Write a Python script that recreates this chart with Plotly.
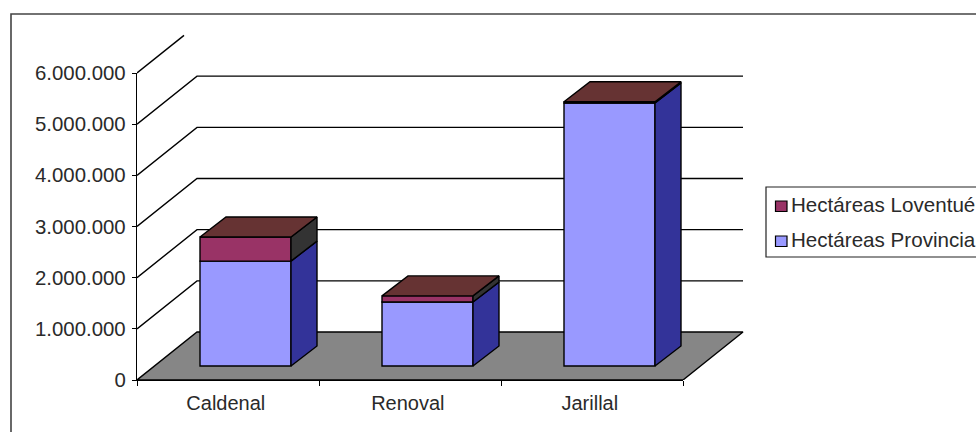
import plotly.graph_objects as go

categories = ["Caldenal", "Renoval", "Jarillal"]
hectareas_provinciales = [2050000, 1250000, 5140000]
hectareas_loventue = [470000, 120000, 25000]
y_ticks = [0, 1000000, 2000000, 3000000, 4000000, 5000000, 6000000]
series_names = ["Hectáreas Loventué", "Hectáreas Provinciales"]

W, H = 976, 432
X0, X1, Y0, Y1 = 137, 683, 380, 73
BG_X1, BG_Y1 = 800, 20                   # extent of the invisible axes that hold floor and walls
PX_X = (X1 - X0) / 3
PX_Y = (Y0 - Y1) / 6000000
DX, DY = 60 / PX_X, 48 / PX_Y            # depth of the floor
LX, LY = 17.5 / PX_X, 14 / PX_Y          # how far the bars sit behind the front edge
BX, BY = 26 / PX_X, 20 / PX_Y            # depth of each bar
BW = 91 / PX_X
FONT = "Liberation Sans, Arial, sans-serif"
TXT = "#2a2a2a"
LW = 1.4

def px(x):
    return x / W

def py(y):
    return 1 - y / H

fig = go.Figure()

# Floor (on the wide invisible axes x/y, which are drawn first)
xl, xr = -0.5, 2.5
fig.add_trace(go.Scatter(
    x=[xl, xl + DX, xr + DX, xr, xl], y=[0, DY, DY, 0, 0], mode="lines", fill="toself",
    fillcolor="#868686", line=dict(color="#000", width=LW), hoverinfo="skip", showlegend=False))

# Back wall gridlines
gx, gy = [], []
for v in y_ticks:
    if v == 0:
        continue
    if v == y_ticks[-1]:
        f = 47 / 60
        gx += [xl, xl + DX * f, None]
        gy += [v, v + DY * f, None]
    else:
        gx += [xl, xl + DX, xr + DX, None]
        gy += [v, v + DY, v + DY, None]
fig.add_trace(go.Scatter(x=gx, y=gy, mode="lines", line=dict(color="#000", width=LW),
                         hoverinfo="skip", showlegend=False))

# Front faces
xs = [i + LX for i in range(len(categories))]
base_low = [LY for _ in categories]
base_high = [LY + p for p in hectareas_provinciales]
fig.add_trace(go.Bar(x=xs, y=hectareas_provinciales, base=base_low, width=BW,
                     marker=dict(color="#9999FF", line=dict(color="#000", width=LW)),
                     name=series_names[1], xaxis="x2", yaxis="y2", cliponaxis=False, showlegend=False))
fig.add_trace(go.Bar(x=xs, y=hectareas_loventue, base=base_high, width=BW,
                     marker=dict(color="#993366", line=dict(color="#000", width=LW)),
                     name=series_names[0], xaxis="x2", yaxis="y2", cliponaxis=False, showlegend=False))

def face(x, y, color):
    fig.add_trace(go.Scatter(x=x, y=y, mode="lines", fill="toself", fillcolor=color,
                             line=dict(color="#000", width=LW), hoverinfo="skip",
                             xaxis="x2", yaxis="y2", cliponaxis=False, showlegend=False))

# Side and top faces
for i, c in enumerate(xs):
    r = c + BW / 2
    l = c - BW / 2
    b = base_low[i]
    m = base_high[i]
    t = m + hectareas_loventue[i]
    face([r, r + BX, r + BX, r, r], [b, b + BY, m + BY, m, b], "#333399")
    face([r, r + BX, r + BX, r, r], [m, m + BY, t + BY, t, m], "#333333")
    face([l, l + BX, r + BX, r, l], [t, t + BY, t + BY, t, t], "#663333")

fig.update_layout(
    width=W, height=H, margin=dict(l=0, r=0, t=0, b=0, autoexpand=False),
    paper_bgcolor="#fff", plot_bgcolor="rgba(0,0,0,0)",
    barmode="overlay", separators=",.", showlegend=False,
    font=dict(family=FONT, size=20, color=TXT),
    xaxis=dict(domain=[px(X0), px(BG_X1)], range=[xl, xl + (BG_X1 - X0) / PX_X], visible=False),
    yaxis=dict(domain=[py(Y0), py(BG_Y1)], range=[0, (Y0 - BG_Y1) / PX_Y], visible=False),
    xaxis2=dict(domain=[px(X0), px(X1)], range=[xl, xr], anchor="y2",
                tickvals=[i - 0.012 for i in range(3)],
                ticktext=categories, ticks="", showgrid=False, zeroline=False,
                showline=True, linecolor="#000", linewidth=LW, ticklabelstandoff=5,
                minor=dict(tick0=-0.5, dtick=1, ticks="outside", ticklen=5, tickwidth=LW, tickcolor="#000")),
    yaxis2=dict(domain=[py(Y0), py(Y1)], range=[0, 6000000], anchor="x2", tickvals=y_ticks, tickformat=",d",
                ticks="outside", ticklen=4, tickwidth=LW, tickcolor="#000", showgrid=False,
                zeroline=False, showline=True, linecolor="#000", linewidth=LW, ticklabelstandoff=2,
                tickfont=dict(size=20.4)),
)

paper = dict(xref="paper", yref="paper")
# Outer frame
fig.add_shape(type="path", path=f"M {px(11)} {py(H + 5)} L {px(11)} {py(14)} L {px(W + 5)} {py(14)}",
              line=dict(color="#444", width=1.6), **paper)
# Legend
fig.add_shape(type="rect", x0=px(766), x1=px(W + 20), y0=py(187), y1=py(257), fillcolor="#fff",
              line=dict(color="#222", width=1.2), layer="above", **paper)
legend_rows = [(series_names[0], "#993366", 206), (series_names[1], "#9999FF", 241)]
for name, color, yc in legend_rows:
    fig.add_shape(type="rect", x0=px(775.5), x1=px(787), y0=py(yc - 5), y1=py(yc + 5.5), fillcolor=color,
                  line=dict(color="#000", width=1.2), layer="above", **paper)
    fig.add_annotation(x=px(789), y=py(yc - 1.5), text=name, showarrow=False, xanchor="left", yanchor="middle",
                       font=dict(family=FONT, size=20.6, color=TXT), **paper)

fig.write_html("out.html", config=dict(displayModeBar=False),
               post_script="document.body.style.margin='0';document.body.style.overflow='hidden';")
